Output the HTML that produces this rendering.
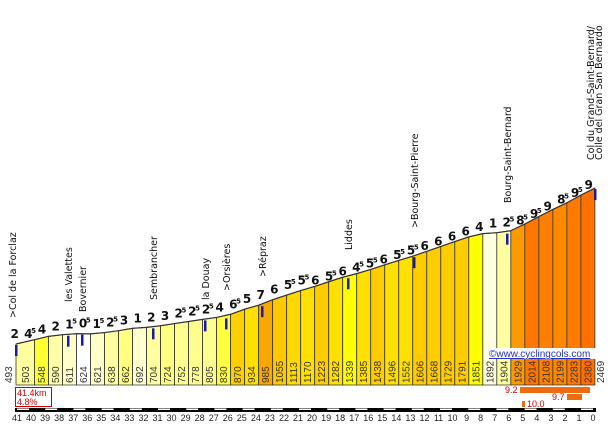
<!DOCTYPE html>
<html><head><meta charset="utf-8"><style>
html,body{margin:0;padding:0;background:#fff;width:610px;height:425px;overflow:hidden}
svg{display:block;font-family:"DejaVu Sans","Liberation Sans",sans-serif}
</style></head><body>
<svg id="s" width="610" height="425" xmlns="http://www.w3.org/2000/svg"></svg>
<script>
const s=document.getElementById('s');const NS='http://www.w3.org/2000/svg';
function el(t,a,txt){const e=document.createElementNS(NS,t);for(const k in a)e.setAttribute(k,a[k]);if(txt!==undefined)e.textContent=txt;s.appendChild(e);return e;}
const L=[503,548,590,611,624,621,638,662,692,704,724,752,778,805,830,870,934,985,1055,1113,1170,1223,1282,1339,1385,1438,1496,1552,1606,1668,1729,1791,1851,1892,1904,1929,2014,2108,2199,2283,2380];
const B=[493].concat(L.slice(1)).concat([2469]);
const N=41;
const X=i=>i==0?16:34.5+(i-1)*14.01;
const Y=e=>344-(e-493)*0.0789;
const cols=['#ffffa0','#ffff30','#ffffa8','#ffffc8','#ffffff','#ffffc8','#ffffa0','#ffff80','#ffffd0','#ffffa0','#ffff80','#ffff90','#ffff90','#ffff90','#ffff40','#ffd000','#ffe000','#f8a800','#ffc800','#ffd800','#ffe000','#ffcc00','#ffe000','#ffff00','#ffe000','#ffcc00','#ffe000','#ffe000','#ffcc00','#ffcc00','#ffcc00','#ffcc00','#ffff00','#ffffe0','#ffffa0','#ff9900','#ff7700','#ff8000','#ff8800','#ff7a00','#ff7000'];
for(let i=0;i<N;i++){
 const x1=X(i),x2=X(i+1),y1=Y(B[i]),y2=Y(B[i+1]);
 el('polygon',{points:`${x1},385 ${x1},${y1} ${x2},${y2} ${x2},385`,fill:cols[i],stroke:'#333','stroke-width':0.8});
 el('text',{x:0,y:0,'font-size':10,'font-family':'Liberation Sans',fill:'#333',transform:`translate(${(x1+x2)/2+3.5},383) rotate(-90)`},String(L[i]));
}
el('text',{x:0,y:0,'font-size':10,'font-family':'Liberation Sans',fill:'#333',transform:`translate(12,383) rotate(-90)`},'493');
el('text',{x:0,y:0,'font-size':10,'font-family':'Liberation Sans',fill:'#333',transform:`translate(604,383) rotate(-90)`},'2469');
let pts='';for(let i=0;i<=N;i++)pts+=X(i)+','+Y(B[i])+' ';
el('polyline',{points:pts,fill:'none',stroke:'#333','stroke-width':1.2});
const g=['2','4|5','4','2','1|5','0|5','1|5','2|5','3','1','2','3','2|5','2|5','2|5','4','6|5','5','7','6','5|5','5|5','6','5|5','6','4|5','5|5','6','5|5','5|5','6','6','6','6','4','1','2|5','8|5','9|5','9','8|5','9|5','9'];
for(let j=0;j<g.length;j++){
 const x=14+j*(574/(g.length-1));
 let idx=0;for(let i=0;i<=N;i++)if(X(i)<=x)idx=i;
 const y=Y(B[idx])-6;
 const p=g[j].split('|');
 el('text',{x:x-3.5,y:y,'font-size':12,'font-weight':'bold','font-family':'DejaVu Sans',fill:'#111'},p[0]);
 if(p[1])el('text',{x:x+3.5,y:y-5,'font-size':7,'font-weight':'bold',fill:'#111'},p[1]);
}
[[16,493],[68,611],[82,624],[153,704],[205,805],[226,830],[262,985],[348,1339],[414,1606],[507,1904],[595,2469]].forEach(([x,e])=>{
 el('rect',{x:x-1,y:Y(e)+1,width:2.5,height:11,fill:'#1a1aa8'});
});
[[16,318,'>Col de la Forclaz'],[72,302,'les Valettes'],[86,312,'Bovernier'],[157,300,'Sembrancher'],[209,300,'la Douay'],[230,291,'>Orsières'],[266,277,'>Répraz'],[352,250,'Liddes'],[418,228,'>Bourg-Saint-Pierre'],[511,203,'Bourg-Saint-Bernard'],[594,160,'Col du Grand-Saint-Bernard/'],[602,160,'Colle del Gran San Bernardo']].forEach(([x,y,t])=>{
 el('text',{x:0,y:0,'font-size':9.5,fill:'#111',transform:`translate(${x},${y}) rotate(-90)`},t);
});
el('rect',{x:487,y:348,width:112,height:11,fill:'#fff'});
el('text',{x:489,y:357,'font-size':10,'font-family':'Liberation Sans',fill:'#2233bb','text-decoration':'underline'},'©www.cyclingcols.com');
el('rect',{x:15.5,y:387.5,width:36,height:19,fill:'#fff',stroke:'#c00','stroke-width':1});
el('text',{x:17,y:396,'font-size':9,'font-family':'Liberation Sans',fill:'#c00'},'41.4km');
el('text',{x:17,y:405,'font-size':9,'font-family':'Liberation Sans',fill:'#c00'},'4.8%');
el('rect',{x:520,y:387,width:70,height:6,fill:'#f06a10'});
el('text',{x:505,y:393,'font-size':9,'font-family':'Liberation Sans',fill:'#c00'},'9.2');
el('rect',{x:567,y:394,width:15,height:6,fill:'#f06a10'});
el('text',{x:552,y:400,'font-size':9,'font-family':'Liberation Sans',fill:'#c00'},'9.7');
el('rect',{x:522,y:401,width:3,height:6,fill:'#f06a10'});
el('text',{x:527,y:407,'font-size':9,'font-family':'Liberation Sans',fill:'#c00'},'10.0');
el('rect',{x:15,y:408,width:581,height:4,fill:'#000'});
for(let k=0;k<41;k+=2){const x=16+k*14.1+1;el('rect',{x:x,y:408.5,width:12,height:1.5,fill:'#fff'});}
for(let k=0;k<=41;k++){el('text',{x:17+k*14.05,y:421,'font-size':9,'font-family':'Liberation Sans',fill:'#222','text-anchor':'middle'},String(41-k));}
</script>
</body></html>
